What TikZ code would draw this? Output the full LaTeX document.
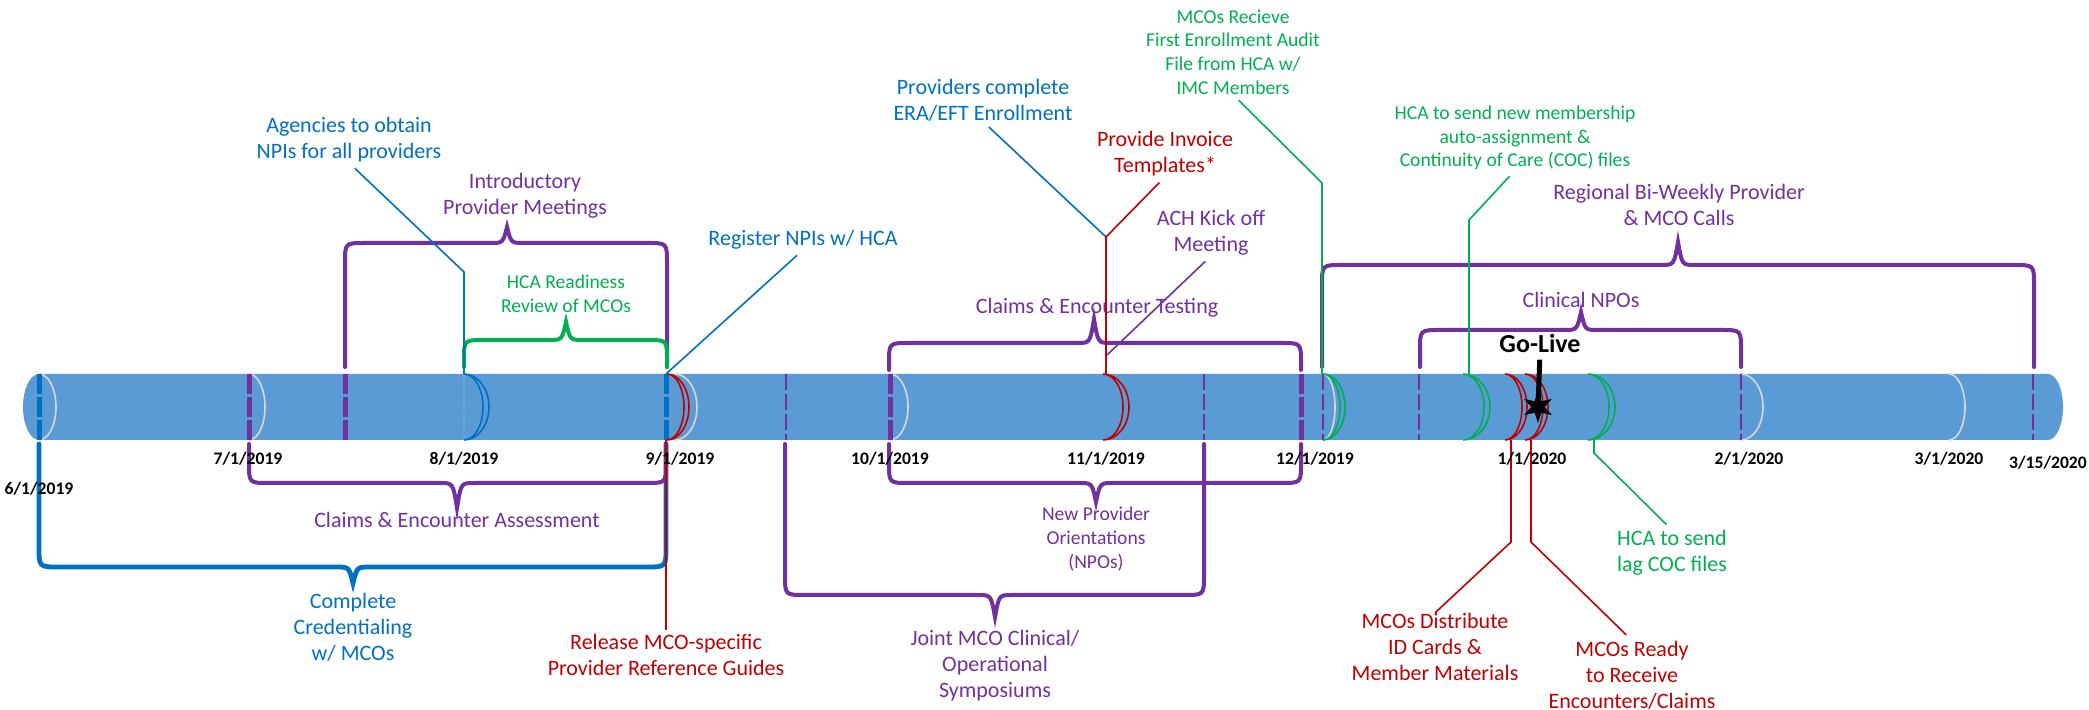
\documentclass[tikz,border=0pt]{standalone}
\usepackage{fontspec}
\setmainfont{Carlito}
\usetikzlibrary{shapes.geometric}
\definecolor{tlblue}{HTML}{0070C0}
\definecolor{tlpurple}{HTML}{7030A0}
\definecolor{tlgreen}{HTML}{00B050}
\definecolor{tlred}{HTML}{C00000}
\definecolor{barrel}{HTML}{5B9BD5}
\definecolor{seamgray}{HTML}{D6D6D6}
\begin{document}
\begin{tikzpicture}[x=0.5pt, y=-0.5pt,
  txt/.style={align=center, inner sep=0pt, font=\fontsize{11}{13}\selectfont},
  small/.style={align=center, inner sep=0pt, font=\fontsize{9.8}{11.8}\selectfont},
  datelabel/.style={inner sep=0pt, font=\fontsize{8.8}{10}\selectfont\bfseries},
  curly/.style={line width=2pt, line cap=round},
  leader/.style={line width=0.8pt, shorten <=4pt},
  seam/.style={draw=seamgray, line width=0.8pt},
  ring/.style={line width=0.8pt},
  ticklong/.style={line width=2.5pt, dash pattern=on 10pt off 1.5pt},
  tickthin/.style={line width=0.8pt, dash pattern=on 8pt off 2pt}]
\useasboundingbox (0,0) rectangle (2089,710);

% Barrel
\fill[barrel] (39,374) -- (2048,374) arc[start angle=-90, end angle=90, x radius=15, y radius=33]
  -- (39,440) arc[start angle=90, end angle=270, x radius=16, y radius=33] -- cycle;

% Seams
\draw[seam] (39,374) arc[start angle=-90, end angle=90, x radius=17, y radius=33];
\draw[seam] (249,374) arc[start angle=-90, end angle=90, x radius=16, y radius=33];
\draw[seam] (675,374) arc[start angle=-90, end angle=90, x radius=22, y radius=33];
\draw[seam] (890,374) arc[start angle=-90, end angle=90, x radius=18, y radius=33];
\draw[seam] (1323,374) arc[start angle=-90, end angle=90, x radius=12, y radius=33];
\draw[seam] (1741,374) arc[start angle=-90, end angle=90, x radius=22, y radius=33];
\draw[seam] (1949,374) arc[start angle=-90, end angle=90, x radius=16, y radius=33];

% Ticks through the barrel
\draw[ticklong, tlblue] (39,374) -- (39,440);
\draw[ticklong, tlpurple] (249,374) -- (249,440);
\draw[ticklong, tlpurple] (345,374) -- (345,440);
\draw[tickthin, tlblue!60] (464,374) -- (464,440);
\draw[ticklong, tlblue] (666,374) -- (666,440);
\draw[tickthin, tlpurple] (786,374) -- (786,440);
\draw[ticklong, tlpurple] (890,374) -- (890,440);
\draw[tickthin, tlpurple] (1204,374) -- (1204,440);
\draw[ticklong, tlpurple] (1301,374) -- (1301,440);
\draw[tickthin, tlpurple] (1323,374) -- (1323,440);
\draw[tickthin, tlpurple] (1419,374) -- (1419,440);
\draw[tickthin, tlpurple] (1741,374) -- (1741,440);
\draw[tickthin, tlpurple] (2033,374) -- (2033,440);

% Double rings
\draw[ring, tlblue] (464,374) arc[start angle=-90, end angle=90, x radius=25, y radius=33]
  (464,374) arc[start angle=-90, end angle=90, x radius=19, y radius=33];
\draw[ring, tlred] (667,374) arc[start angle=-90, end angle=90, x radius=22, y radius=33]
  (667,374) arc[start angle=-90, end angle=90, x radius=17, y radius=33];
\draw[ring, tlred] (1103,374) arc[start angle=-90, end angle=90, x radius=26, y radius=33]
  (1103,374) arc[start angle=-90, end angle=90, x radius=20, y radius=33];
\draw[ring, tlgreen] (1323,374) arc[start angle=-90, end angle=90, x radius=22, y radius=33]
  (1323,374) arc[start angle=-90, end angle=90, x radius=17, y radius=33];
\draw[ring, tlgreen] (1463,374) arc[start angle=-90, end angle=90, x radius=27, y radius=33]
  (1463,374) arc[start angle=-90, end angle=90, x radius=21, y radius=33];
\draw[ring, tlred] (1505,374) arc[start angle=-90, end angle=90, x radius=22, y radius=33]
  (1505,374) arc[start angle=-90, end angle=90, x radius=17, y radius=33];
\draw[ring, tlred] (1525,374) arc[start angle=-90, end angle=90, x radius=23, y radius=33]
  (1525,374) arc[start angle=-90, end angle=90, x radius=18, y radius=33];
\draw[ring, tlgreen] (1588,374) arc[start angle=-90, end angle=90, x radius=27, y radius=33]
  (1588,374) arc[start angle=-90, end angle=90, x radius=21, y radius=33];

% Attach points on the barrel
\coordinate (aug top) at (464,374);
\coordinate (sep top) at (666,374);
\coordinate (nov fork) at (1106,237);
\coordinate (nov top) at (1106,374);
\coordinate (ach end) at (1107,355);
\coordinate (dec top) at (1322,374);
\coordinate (coc top) at (1469,374);
\coordinate (sep bot) at (666,440);
\coordinate (idc bot) at (1511,440);
\coordinate (enc bot) at (1531,440);
\coordinate (lag bot) at (1594,440);

% Braces above
\draw[curly, tlpurple] (345,367) -- (345,263) .. controls (345,243) .. (365,243) -- (490,243)
  .. controls (503,243) .. (507,227) .. controls (511,243) .. (524,243) -- (647,243)
  .. controls (667,243) .. (667,263) -- (667,367);
\draw[curly, tlgreen] (464,367) -- (464,360) .. controls (464,340) .. (484,340) -- (549,340)
  .. controls (562,340) .. (566,322) .. controls (570,340) .. (583,340) -- (647,340)
  .. controls (667,340) .. (667,360) -- (667,367);
\draw[curly, tlpurple] (889,370) -- (889,363) .. controls (889,343) .. (909,343) -- (1077,343)
  .. controls (1090,343) .. (1094,319) .. controls (1098,343) .. (1111,343) -- (1281,343)
  .. controls (1301,343) .. (1301,363) -- (1301,370);
\draw[curly, tlpurple] (1322,367) -- (1322,285) .. controls (1322,265) .. (1342,265) -- (1661,265)
  .. controls (1674,265) .. (1678,242) .. controls (1682,265) .. (1695,265) -- (2014,265)
  .. controls (2034,265) .. (2034,285) -- (2034,367);
\draw[curly, tlpurple] (1420,367) -- (1420,350) .. controls (1420,330) .. (1440,330) -- (1564,330)
  .. controls (1577,330) .. (1581,312) .. controls (1585,330) .. (1598,330) -- (1721,330)
  .. controls (1741,330) .. (1741,350) -- (1741,367);

% Braces below
\draw[curly, tlblue, line width=2.4pt] (39,444) -- (39,547) .. controls (39,567) .. (59,567) -- (336,567)
  .. controls (349,567) .. (353,583) .. controls (357,567) .. (370,567) -- (646,567)
  .. controls (666,567) .. (666,547) -- (666,444);
\draw[curly, tlpurple] (249,444) -- (249,463) .. controls (249,483) .. (269,483) -- (440,483)
  .. controls (453,483) .. (457,508) .. controls (461,483) .. (474,483) -- (646,483)
  .. controls (666,483) .. (666,463) -- (666,444);
\draw[curly, tlpurple] (785,444) -- (785,575) .. controls (785,595) .. (805,595) -- (978,595)
  .. controls (991,595) .. (995,617) .. controls (999,595) .. (1012,595) -- (1184,595)
  .. controls (1204,595) .. (1204,575) -- (1204,444);
\draw[curly, tlpurple] (889,444) -- (889,463) .. controls (889,483) .. (909,483) -- (1079,483)
  .. controls (1092,483) .. (1096,502) .. controls (1100,483) .. (1113,483) -- (1281,483)
  .. controls (1301,483) .. (1301,463) -- (1301,444);

% Labels above
\node[txt, text=tlblue] (agencies) at (349,140) {Agencies to obtain\\NPIs for all providers};
\node[txt, text=tlpurple] (intro) at (525,196) {Introductory\\Provider Meetings};
\node[small, text=tlgreen] (readiness) at (566,294) {HCA Readiness\\Review of MCOs};
\node[txt, text=tlblue] (register) at (803,240) {Register NPIs w/ HCA};
\node[txt, text=tlblue] (providers) at (983,100) {Providers complete\\ERA/EFT Enrollment};
\node[txt, text=tlred] (invoice) at (1165,154) {Provide Invoice\\Templates*};
\node[txt, text=tlpurple] (ach) at (1211,233) {ACH Kick off\\Meeting};
\node[txt, text=tlpurple] (testing) at (1097,308) {Claims \& Encounter Testing};
\node[small, text=tlgreen] (audit) at (1233,52) {MCOs Recieve\\First Enrollment Audit\\File from HCA w/\\IMC Members};
\node[small, text=tlgreen] (membership) at (1515,138) {HCA to send new membership\\auto-assignment \&\\Continuity of Care (COC) files};
\node[txt, text=tlpurple] (regional) at (1679,205) {Regional Bi-Weekly Provider\\\& MCO Calls};
\node[txt, text=tlpurple] (clinical) at (1581,300) {Clinical NPOs};

% Leaders above
\draw[leader, tlblue] (agencies.south) -- (464,272) -- (aug top);
\draw[leader, tlblue] (register.south) -- (sep top);
\draw[leader, tlblue] (providers.south) -- (nov fork);
\draw[leader, tlred] (invoice.south) -- (nov fork) -- (nov top);
\draw[leader, tlpurple] (ach.south) -- (ach end);
\draw[leader, tlgreen] (audit.south) -- (1322,183) -- (dec top);
\draw[leader, tlgreen] (membership.south) -- (1469,220) -- (coc top);

% Go-Live
\node[star, star points=6, star point ratio=2.4, fill=black, inner sep=0pt, minimum size=16pt] (burst) at (1538,407) {};
\node[inner sep=0pt, font=\fontsize{13}{15}\selectfont\bfseries] (golive) at (1540,343) {Go-Live};
\draw[line width=2.5pt, shorten <=3.5pt] (golive.south) -- (burst.center);

% Labels below
\node[txt, text=tlblue] (credential) at (353,627) {Complete\\Credentialing\\w/ MCOs};
\node[txt, text=tlpurple] (assess) at (457,520) {Claims \& Encounter Assessment};
\node[txt, text=tlred] (release) at (666,655) {Release MCO-specific\\Provider Reference Guides};
\node[txt, text=tlpurple] (symposium) at (995,666) {Joint MCO Clinical/\\Operational\\Symposiums};
\node[small, text=tlpurple] (npo) at (1096,539) {New Provider\\Orientations\\(NPOs)};
\node[txt, text=tlred] (distribute) at (1435,647) {MCOs Distribute\\ID Cards \&\\Member Materials};
\node[txt, text=tlred] (ready) at (1632,675) {MCOs Ready\\to Receive\\Encounters/Claims};
\node[txt, text=tlgreen] (lagcoc) at (1672,553) {HCA to send\\lag COC files};

% Leaders below
\draw[leader, tlred, shorten <=2pt] (release.north) -- (sep bot);
\draw[leader, tlred, shorten <=0pt] (distribute.north) -- (1511,542) -- (idc bot);
\draw[leader, tlred] (ready.north) -- (1531,542) -- (enc bot);
\draw[leader, tlgreen] (lagcoc.north) -- (1594,453) -- (lag bot);

% Dates
\node[datelabel] (jun) at (39,489) {6/1/2019};
\node[datelabel] (jul) at (248,459) {7/1/2019};
\node[datelabel] (aug) at (464,459) {8/1/2019};
\node[datelabel] (sep) at (680,459) {9/1/2019};
\node[datelabel] (oct) at (890,459) {10/1/2019};
\node[datelabel] (nov) at (1106,459) {11/1/2019};
\node[datelabel] (dec) at (1315,459) {12/1/2019};
\node[datelabel] (jan) at (1532,459) {1/1/2020};
\node[datelabel] (feb) at (1749,459) {2/1/2020};
\node[datelabel] (mar) at (1949,459) {3/1/2020};
\node[datelabel] (midmar) at (2048,463) {3/15/2020};
\end{tikzpicture}
\end{document}
